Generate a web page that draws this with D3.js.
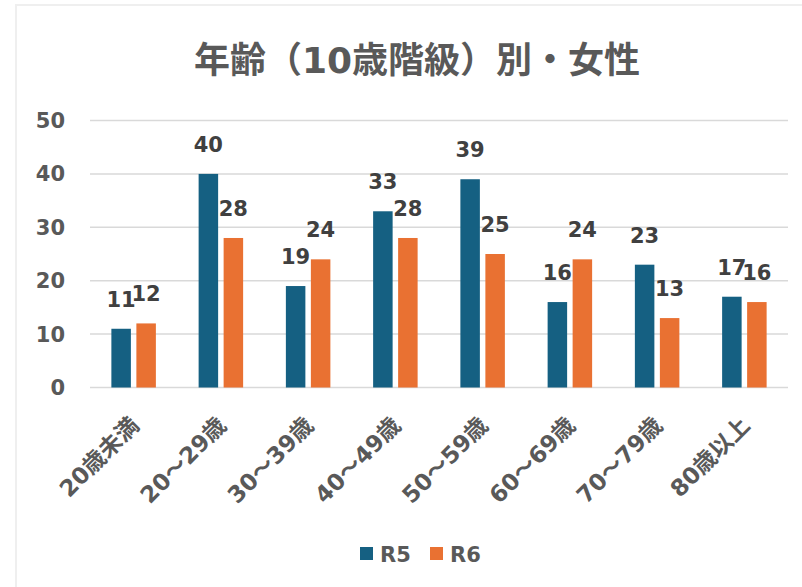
<!DOCTYPE html>
<meta charset="utf-8">
<style>
body { margin: 0; background: #fff; }
svg text { font-family: "DejaVu Sans", "Noto Sans CJK JP", sans-serif; font-weight: bold; }
</style>
<body>
<svg id="chart" width="802" height="587"></svg>
</body>
<script src="https://d3js.org/d3.v7.min.js"></script>
<script>
(function () {
// data
var categories = ["20歳未満", "20～29歳", "30～39歳", "40～49歳", "50～59歳", "60～69歳", "70～79歳", "80歳以上"];
var seriesNames = ["R5", "R6"];
var r5 = [11, 40, 19, 33, 39, 16, 23, 17];
var r6 = [12, 28, 24, 28, 25, 24, 13, 16];
var yTicks = [0, 10, 20, 30, 40, 50];
var colors = ["#156082", "#E97132"];

var svg = d3.select("#chart");

// chart frame
svg.append("rect")
  .attr("x", 16).attr("y", 5)
  .attr("width", 820).attr("height", 620)
  .attr("fill", "none").attr("stroke", "#efefef").attr("stroke-width", 2);

var pLeft = 90, pRight = 788, pTop = 120.5, pBottom = 387.5;

var x = d3.scaleBand().domain(categories).range([pLeft, pRight]);
var y = d3.scaleLinear().domain([0, 50]).range([pBottom, pTop]);

// title
svg.append("text")
  .attr("x", 417).attr("y", 73)
  .attr("text-anchor", "middle")
  .attr("fill", "#595959")
  .style("font-size", "36px")
  .text("年齢（10歳階級）別・女性");

// gridlines
svg.append("g").selectAll("line").data(yTicks).enter().append("line")
  .attr("x1", pLeft).attr("x2", pRight)
  .attr("y1", function(d) { return y(d); }).attr("y2", function(d) { return y(d); })
  .attr("stroke", "#d9d9d9").attr("stroke-width", 1.5);

// y labels
svg.append("g").selectAll("text").data(yTicks).enter().append("text")
  .attr("x", 65).attr("y", function(d) { return y(d) + 7.5; })
  .attr("text-anchor", "end")
  .attr("fill", "#595959")
  .style("font-size", "21px")
  .text(function(d) { return d; });

var barW = 19.5, gap = 5.5;
var series = [r5, r6];

series.forEach(function(vals, s) {
  var g = svg.append("g");
  var bx = function(i) {
    var c = x(categories[i]) + x.bandwidth() / 2;
    return s === 0 ? c - gap / 2 - barW : c + gap / 2;
  };
  g.selectAll("rect").data(vals).enter().append("rect")
    .attr("x", function(d, i) { return bx(i); })
    .attr("y", function(d) { return y(d); })
    .attr("width", barW)
    .attr("height", function(d) { return y(0) - y(d); })
    .attr("fill", colors[s]);
  g.selectAll("text").data(vals).enter().append("text")
    .attr("x", function(d, i) { return bx(i) + barW / 2; })
    .attr("y", function(d) { return y(d) - 22; })
    .attr("text-anchor", "middle")
    .attr("fill", "#404040")
    .style("font-size", "21px")
    .text(function(d) { return d; });
});

// x labels
svg.append("g").selectAll("text").data(categories).enter().append("text")
  .attr("transform", function(d) {
    var cx = x(d) + x.bandwidth() / 2 + 7;
    return "translate(" + cx + ",427) rotate(-45)";
  })
  .attr("text-anchor", "end")
  .attr("fill", "#595959")
  .style("font-size", "23px")
  .text(function(d) { return d; });

// legend
var legX = [360, 430];
seriesNames.forEach(function(n, i) {
  svg.append("rect")
    .attr("x", legX[i]).attr("y", 547)
    .attr("width", 13).attr("height", 13)
    .attr("fill", colors[i]);
  svg.append("text")
    .attr("x", legX[i] + 20).attr("y", 562)
    .attr("fill", "#595959")
    .style("font-size", "21px")
    .text(n);
});
})();
</script>
